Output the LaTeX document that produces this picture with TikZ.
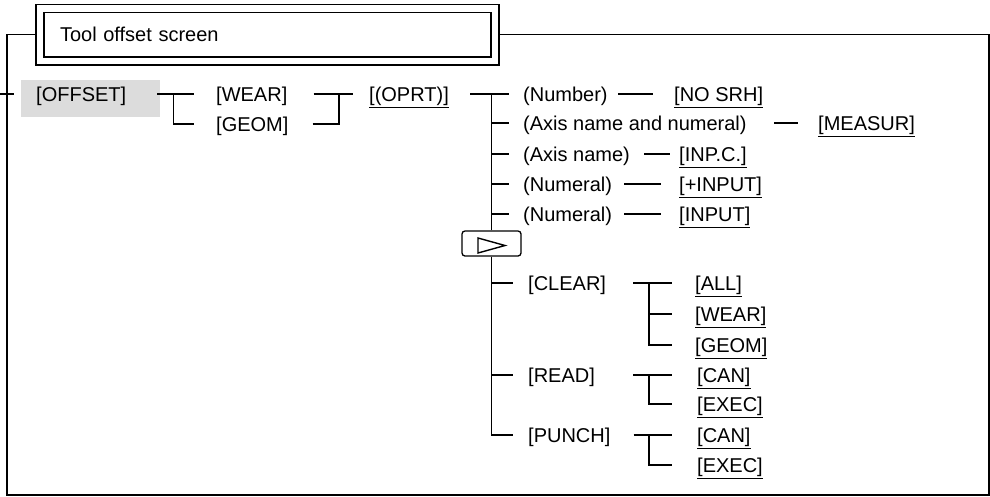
\documentclass[tikz,border=0pt]{standalone}
\usepackage{fontspec}
\setmainfont{Liberation Sans}
\usepackage{tikz}
\usetikzlibrary{positioning}
\definecolor{keygray}{RGB}{220,220,220}
\newsavebox{\skeybox}
\newcommand{\skey}[1]{\sbox\skeybox{#1}\rlap{\rule[-7.15pt]{\wd\skeybox}{1.3pt}}\usebox\skeybox}

\begin{document}
\begin{tikzpicture}[x=1pt, y=-1pt,
every node/.style={font=\fontsize{20}{24}\selectfont},
lbl/.style={anchor=west, inner sep=0pt, text height=14.3pt, text depth=0pt},
keybox/.style={fill=keygray, anchor=north west, text width=109pt, inner xsep=15pt, inner ysep=6.85pt, text height=14.3pt, text depth=8.85pt, align=left},
titlebox/.style={draw, double, double distance=6.7pt, line width=1.3pt, outer sep=0pt, minimum width=455pt, minimum height=52.5pt, text width=415pt, inner xsep=20pt, align=left},
nextkey/.style={draw, rounded corners=3pt, line width=1.3pt, minimum width=59pt, minimum height=25pt, inner sep=0pt},
link/.style={line width=1.4pt}
]
\useasboundingbox (0,0) rectangle (990,496);

\node[titlebox] (title) at (267.5,34.75) {Tool offset screen};
\draw[link] ([xshift=-4pt]title.west) -| (7,495) -| (989,34.75) -- ([xshift=4pt]title.east);

\node[keybox] (offset) at (21,80) {[OFFSET]};
\node[lbl] (wear1) at (216,94) {[WEAR]};
\node[lbl] (geom1) at (216,124) {[GEOM]};
\node[lbl] (oprt) at (369,94) {\skey{[(OPRT)]}};

\node[lbl] (number) at (523,94) {(Number)};
\node[lbl] (nosrh) at (674,94) {\skey{[NO SRH]}};
\node[lbl] (axnum) at (523,123) {(Axis name and numeral)};
\node[lbl] (measur) at (818,123) {\skey{[MEASUR]}};
\node[lbl] (axis) at (523,154) {(Axis name)};
\node[lbl] (inpc) at (679,154) {\skey{[INP.C.]}};
\node[lbl] (num1) at (523,184) {(Numeral)};
\node[lbl] (pinput) at (679,184) {\skey{[+INPUT]}};
\node[lbl] (num2) at (523,214) {(Numeral)};
\node[lbl] (input) at (679,214) {\skey{[INPUT]}};

\node[nextkey] (nxt) at (491.5,243.5) {};
\draw[link, line join=miter] ([shift={(-13.5,-5.5)}]nxt.center) -- ([shift={(13.5,2)}]nxt.center) -- ([shift={(-13.5,9.5)}]nxt.center) -- cycle;

\node[lbl] (clear) at (528,283) {[CLEAR]};
\node[lbl] (all) at (695,283) {\skey{[ALL]}};
\node[lbl] (wear2) at (695,314) {\skey{[WEAR]}};
\node[lbl] (geom2) at (695,345) {\skey{[GEOM]}};
\node[lbl] (read) at (528,375) {[READ]};
\node[lbl] (can1) at (697,375) {\skey{[CAN]}};
\node[lbl] (exec1) at (697,404) {\skey{[EXEC]}};
\node[lbl] (punch) at (528,435) {[PUNCH]};
\node[lbl] (can2) at (697,435) {\skey{[CAN]}};
\node[lbl] (exec2) at (697,465) {\skey{[EXEC]}};

\coordinate (entry) at (0,94);
\draw[link] (entry) -- ([xshift=-7pt]entry -| offset.west);

\draw[link] ([xshift=-3pt]offset.east |- wear1.west) -- ([xshift=-22pt]wear1.west);
\draw[link] ([xshift=13pt]offset.east |- wear1.west) |- ([xshift=-22pt]geom1.west);
\draw[link] ([xshift=26pt]wear1.east) -- ([xshift=-16pt]oprt.west);
\draw[link] ([xshift=24pt]geom1.east) -| ([xshift=-30pt]oprt.west);

\draw[link] ([xshift=21pt]oprt.east) -- ([xshift=-14pt]number.west);
\draw[link] (nxt.north) -- (nxt.north |- number.west);
\foreach \n in {axnum,axis,num1,num2}
  \draw[link] (nxt.north |- \n.west) -- ([xshift=-14pt]\n.west);

\draw[link] ([xshift=10.6pt]number.east) -- ([xshift=-21pt]nosrh.west);
\draw[link] ([xshift=27.6pt]axnum.east) -- ([xshift=-20pt]measur.west);
\draw[link] ([xshift=14.3pt]axis.east) -- ([xshift=-9pt]inpc.west);
\draw[link] ([xshift=12pt]num1.east) -- ([xshift=-18pt]pinput.west);
\draw[link] ([xshift=12pt]num2.east) -- ([xshift=-18pt]input.west);

\draw[link] (nxt.south) |- ([xshift=-15pt]punch.west);
\foreach \n in {clear,read}
  \draw[link] (nxt.south |- \n.west) -- ([xshift=-15pt]\n.west);

\draw[link] ([xshift=27pt]clear.east) -- ([xshift=-23pt]all.west);
\draw[link] ([xshift=-46pt]all.west) |- ([xshift=-23pt]geom2.west);
\draw[link] ([xshift=-46pt]wear2.west) -- ([xshift=-23pt]wear2.west);

\draw[link] ([xshift=38pt]read.east) -- ([xshift=-25pt]can1.west);
\draw[link] ([xshift=-48pt]can1.west) |- ([xshift=-25pt]exec1.west);

\draw[link] ([xshift=23pt]punch.east) -- ([xshift=-25pt]can2.west);
\draw[link] ([xshift=-48pt]can2.west) |- ([xshift=-25pt]exec2.west);
\end{tikzpicture}
\end{document}
